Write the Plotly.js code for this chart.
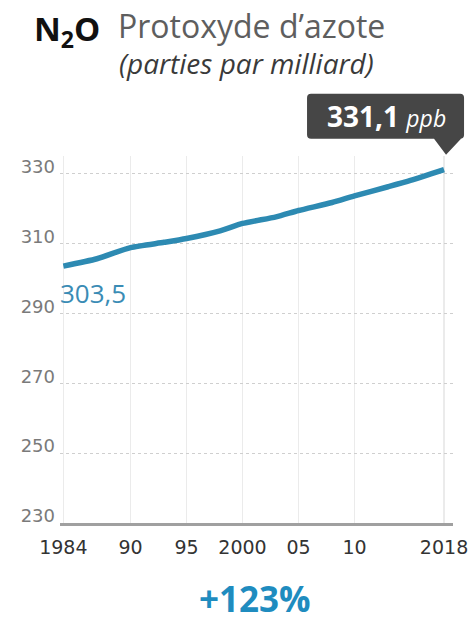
<!DOCTYPE html>
<html>
<head>
<meta charset="utf-8">
<script src="https://cdn.plot.ly/plotly-3.0.1.min.js"></script>
<style>
  html, body { margin: 0; padding: 0; background: #ffffff; }
  #chart { width: 475px; height: 621px; }
</style>
</head>
<body>
<div id="chart"></div>
<script>
// N2O concentration, parts per billion
const years = [1984, 1987, 1990, 1993, 1995, 1998, 2000, 2003, 2005, 2008, 2010, 2013, 2015, 2018];
const ppb = [303.5, 305.6, 308.8, 310.3, 311.4, 313.6, 315.7, 317.6, 319.4, 321.7, 323.6, 326.2, 328.0, 331.1];

const xTickVals = [1984, 1990, 1995, 2000, 2005, 2010, 2018];
const xTickText = ["1984", "90", "95", "2000", "05", "10", "2018"];
const yTickVals = [230, 250, 270, 290, 310, 330];

const firstValue = "303,5";
const lastValue = "331,1";
const growth = "+123%";

// plot area geometry (pixels)
const W = 475, H = 621;
const M = { l: 60, r: 22, t: 155.5, b: 98 };
const plotW = W - M.l - M.r;
const plotH = H - M.t - M.b;
const px = x => (x - M.l) / plotW;
const py = y => (H - M.b - y) / plotH;

const xRange = [1983.7, 2018.8];
const yRange = [230, 335];

const lineColor = "#2d8ab2";
const lastX = years[years.length - 1];
const lastY = ppb[ppb.length - 1];
// latest point as a fraction of the plot area, so the callout can sit outside it
const lastXFrac = (lastX - xRange[0]) / (xRange[1] - xRange[0]);
const lastYFrac = (lastY - yRange[0]) / (yRange[1] - yRange[0]);

const trace = {
  x: years,
  y: ppb,
  type: "scatter",
  mode: "lines",
  line: { color: lineColor, width: 5.5, shape: "spline", smoothing: 0.6 },
  hoverinfo: "skip"
};

// speech-bubble callout around the latest value, in pixels from the last point
const r = 4;
const bubble = [
  `M ${-137 + r} 76`,
  `L ${20 - r} 76`, `Q 20 76 20 ${76 - r}`,
  `L 20 ${31 + r}`, `Q 20 31 ${20 - r} 31`,
  `L 17 31`, `L 2 15`, `L -10 31`,
  `L ${-137 + r} 31`, `Q -137 31 -137 ${31 + r}`,
  `L -137 ${76 - r}`, `Q -137 76 ${-137 + r} 76`, "Z"
].join(" ");

const layout = {
  width: W,
  height: H,
  margin: M,
  paper_bgcolor: "#ffffff",
  plot_bgcolor: "#ffffff",
  showlegend: false,
  font: { family: "Open Sans, DejaVu Sans, sans-serif" },
  xaxis: {
    range: xRange,
    tickvals: xTickVals,
    ticktext: xTickText,
    showgrid: true,
    gridcolor: "#ebebeb",
    gridwidth: 1.5,
    zeroline: false,
    showline: true,
    linecolor: "#a0a0a0",
    linewidth: 2.5,
    ticks: "",
    ticklabelstandoff: 6,
    tickfont: { family: "DejaVu Sans, sans-serif", size: 19, color: "#333333" },
    fixedrange: true
  },
  yaxis: {
    range: yRange,
    tickvals: yTickVals,
    showgrid: true,
    gridcolor: "#cfcfcf",
    gridwidth: 1,
    griddash: "dot",
    zeroline: false,
    showline: false,
    ticks: "",
    ticklabelstandoff: 4,
    ticklabelshift: -7,
    tickfont: { family: "DejaVu Sans, sans-serif", size: 18, color: "#7a7a7a" },
    fixedrange: true
  },
  shapes: [
    {
      type: "path",
      xref: "paper", yref: "paper",
      xsizemode: "pixel", ysizemode: "pixel",
      xanchor: lastXFrac, yanchor: lastYFrac,
      path: bubble,
      fillcolor: "#464646",
      line: { width: 0 }
    }
  ],
  annotations: [
    {
      xref: "paper", yref: "paper",
      x: px(32), y: py(30),
      xanchor: "left", yanchor: "middle",
      text: "<b>N<sub>2</sub>O</b>",
      showarrow: false,
      font: { family: "Open Sans, sans-serif", size: 33, color: "#111111" }
    },
    {
      xref: "paper", yref: "paper",
      x: px(116), y: py(25),
      xanchor: "left", yanchor: "middle",
      text: "Protoxyde d’azote",
      showarrow: false,
      font: { family: "Open Sans, sans-serif", size: 32, color: "#5e5e5e" }
    },
    {
      xref: "paper", yref: "paper",
      x: px(117), y: py(62),
      xanchor: "left", yanchor: "middle",
      text: "<i>(parties par milliard)</i>",
      showarrow: false,
      font: { family: "Open Sans, sans-serif", size: 28, color: "#3a3a3a" }
    },
    {
      x: lastX, y: lastY,
      xref: "x", yref: "y",
      xanchor: "center", yanchor: "middle",
      xshift: -58, yshift: 54,
      text: "<b>" + lastValue + "</b> <i><span style=\"font-size:23px\">ppb</span></i>",
      showarrow: false,
      font: { family: "Open Sans, sans-serif", size: 28, color: "#ffffff" }
    },
    {
      x: years[0], y: ppb[0],
      xref: "x", yref: "y",
      xanchor: "left", yanchor: "middle",
      xshift: -5, yshift: -27,
      text: firstValue,
      showarrow: false,
      font: { family: "Open Sans, sans-serif", size: 26, color: "#3a8cb5" }
    },
    {
      xref: "paper", yref: "paper",
      x: px(255), y: py(599),
      xanchor: "center", yanchor: "middle",
      text: "<b>" + growth + "</b>",
      showarrow: false,
      font: { family: "Open Sans, sans-serif", size: 35, color: "#1f8cbf" }
    }
  ]
};

Plotly.newPlot("chart", [trace], layout, { staticPlot: true, displayModeBar: false });
</script>
</body>
</html>
